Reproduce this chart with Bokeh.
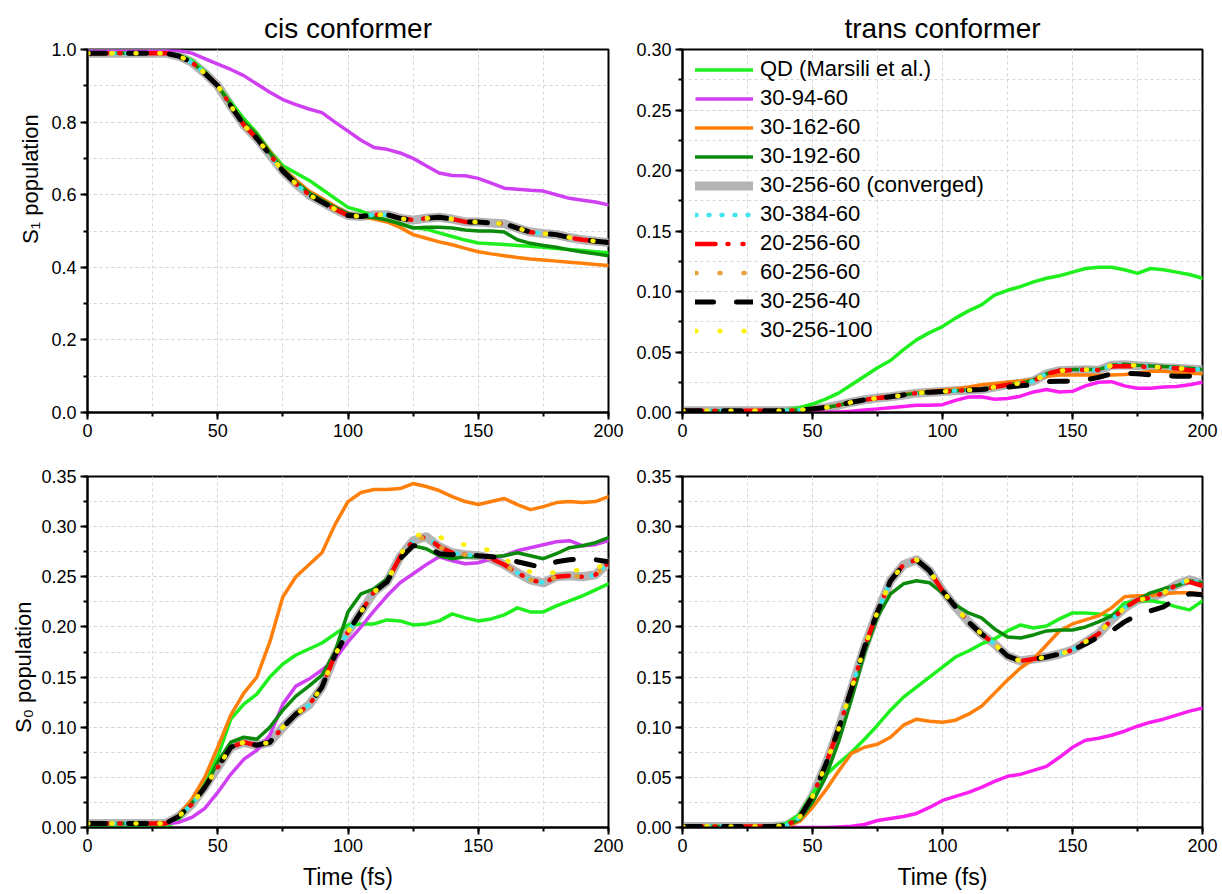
from bokeh.plotting import figure
from bokeh.models import (Range1d, FixedTicker, NumeralTickFormatter, Legend,
                          LegendItem, ColumnDataSource)
from bokeh.layouts import gridplot
from bokeh.embed import file_html
from bokeh.resources import INLINE

# ---------------- data ----------------
time_fs = [0, 5, 10, 15, 20, 25, 30, 35, 40, 45, 50, 55, 60, 65, 70, 75, 80, 85, 90, 95, 100,
           105, 110, 115, 120, 125, 130, 135, 140, 145, 150, 155, 160, 165, 170, 175, 180,
           185, 190, 195, 200]

series_labels = ["QD (Marsili et al.)", "30-94-60", "30-162-60", "30-192-60",
                 "30-256-60 (converged)", "30-384-60", "20-256-60", "60-256-60",
                 "30-256-40", "30-256-100"]

panel_titles = ["cis conformer", "trans conformer"]
x_ticks = [0, 50, 100, 150, 200]
y_ticks_s1_cis = [0.0, 0.2, 0.4, 0.6, 0.8, 1.0]
y_ticks_s1_trans = [0.0, 0.05, 0.10, 0.15, 0.20, 0.25, 0.30]
y_ticks_s0 = [0.0, 0.05, 0.10, 0.15, 0.20, 0.25, 0.30, 0.35]

# ---- cis, S1 population ----
cis_s1_qd = [0.995, 0.995, 0.995, 0.995, 0.995, 0.995, 0.995, 0.985, 0.97, 0.94, 0.90, 0.855, 0.81, 0.77, 0.72, 0.68, 0.66, 0.64, 0.615, 0.59, 0.565,
             0.555, 0.54, 0.53, 0.52, 0.51, 0.505, 0.495, 0.485, 0.475, 0.467, 0.465, 0.463, 0.46, 0.458, 0.455, 0.452, 0.449, 0.446, 0.443, 0.44]
cis_s1_94 = [0.998, 0.998, 0.998, 0.998, 0.998, 0.998, 0.998, 0.997, 0.99, 0.975, 0.96, 0.945, 0.928, 0.905, 0.882, 0.862, 0.848, 0.836, 0.826, 0.80, 0.775,
             0.75, 0.73, 0.725, 0.715, 0.70, 0.68, 0.66, 0.653, 0.652, 0.645, 0.632, 0.618, 0.615, 0.612, 0.61, 0.60, 0.59, 0.585, 0.58, 0.572]
cis_s1_162 = [0.99, 0.99, 0.99, 0.99, 0.99, 0.99, 0.99, 0.982, 0.965, 0.935, 0.90, 0.848, 0.80, 0.765, 0.718, 0.672, 0.64, 0.61, 0.59, 0.568, 0.548,
              0.54, 0.533, 0.525, 0.51, 0.49, 0.48, 0.47, 0.462, 0.452, 0.443, 0.437, 0.432, 0.427, 0.423, 0.42, 0.417, 0.414, 0.411, 0.408, 0.405]
cis_s1_192 = [0.99, 0.99, 0.99, 0.99, 0.99, 0.99, 0.99, 0.982, 0.965, 0.935, 0.90, 0.848, 0.80, 0.765, 0.715, 0.67, 0.635, 0.605, 0.585, 0.565, 0.548,
              0.54, 0.537, 0.53, 0.52, 0.508, 0.51, 0.51, 0.508, 0.503, 0.50, 0.50, 0.497, 0.476, 0.466, 0.46, 0.455, 0.448, 0.442, 0.437, 0.432]
cis_s1_conv = [0.99, 0.99, 0.99, 0.99, 0.99, 0.99, 0.99, 0.982, 0.965, 0.935, 0.90, 0.845, 0.792, 0.755, 0.71, 0.665, 0.63, 0.60, 0.58, 0.56, 0.543,
               0.54, 0.545, 0.545, 0.535, 0.53, 0.535, 0.538, 0.533, 0.525, 0.525, 0.522, 0.52, 0.508, 0.497, 0.493, 0.49, 0.482, 0.476, 0.472, 0.468]
cis_s1_384 = [0.99, 0.99, 0.99, 0.99, 0.99, 0.99, 0.99, 0.982, 0.965, 0.935, 0.90, 0.845, 0.792, 0.755, 0.71, 0.665, 0.63, 0.60, 0.58, 0.56, 0.543,
              0.54, 0.545, 0.545, 0.535, 0.53, 0.535, 0.538, 0.533, 0.525, 0.525, 0.522, 0.52, 0.508, 0.497, 0.493, 0.49, 0.482, 0.476, 0.472, 0.468]
cis_s1_20 = [0.99, 0.99, 0.99, 0.99, 0.99, 0.99, 0.99, 0.982, 0.965, 0.935, 0.90, 0.845, 0.792, 0.755, 0.71, 0.665, 0.63, 0.60, 0.58, 0.56, 0.543,
             0.54, 0.545, 0.545, 0.535, 0.53, 0.535, 0.538, 0.533, 0.525, 0.525, 0.522, 0.52, 0.508, 0.497, 0.493, 0.49, 0.482, 0.476, 0.472, 0.468]
cis_s1_60 = [0.99, 0.99, 0.99, 0.99, 0.99, 0.99, 0.99, 0.982, 0.965, 0.935, 0.90, 0.845, 0.792, 0.755, 0.71, 0.665, 0.63, 0.60, 0.58, 0.56, 0.543,
             0.54, 0.545, 0.545, 0.535, 0.53, 0.535, 0.538, 0.533, 0.525, 0.525, 0.522, 0.52, 0.508, 0.497, 0.493, 0.49, 0.482, 0.476, 0.472, 0.468]
cis_s1_40 = [0.99, 0.99, 0.99, 0.99, 0.99, 0.99, 0.99, 0.982, 0.965, 0.935, 0.90, 0.845, 0.792, 0.755, 0.71, 0.665, 0.63, 0.60, 0.58, 0.56, 0.543,
             0.54, 0.545, 0.545, 0.535, 0.53, 0.535, 0.538, 0.533, 0.525, 0.525, 0.522, 0.52, 0.508, 0.497, 0.493, 0.49, 0.482, 0.476, 0.472, 0.468]
cis_s1_100 = [0.99, 0.99, 0.99, 0.99, 0.99, 0.99, 0.99, 0.982, 0.965, 0.935, 0.90, 0.845, 0.792, 0.755, 0.71, 0.665, 0.63, 0.60, 0.58, 0.56, 0.543,
              0.54, 0.545, 0.545, 0.535, 0.53, 0.535, 0.538, 0.533, 0.525, 0.525, 0.522, 0.52, 0.508, 0.497, 0.493, 0.49, 0.482, 0.476, 0.472, 0.468]

# ---- cis, S0 population ----
cis_s0_qd = [0.0, 0.0, 0.0, 0.0, 0.0, 0.0, 0.0, 0.008, 0.025, 0.045, 0.071, 0.108, 0.123, 0.133, 0.15, 0.163, 0.172, 0.178, 0.184, 0.193, 0.202,
             0.203, 0.203, 0.207, 0.206, 0.202, 0.203, 0.206, 0.213, 0.209, 0.206, 0.208, 0.212, 0.219, 0.215, 0.215, 0.221, 0.226, 0.231, 0.237, 0.243]
cis_s0_94 = [0.004, 0.004, 0.004, 0.004, 0.004, 0.004, 0.004, 0.005, 0.01, 0.019, 0.035, 0.053, 0.068, 0.077, 0.092, 0.123, 0.141, 0.148, 0.157, 0.168, 0.185,
             0.2, 0.216, 0.231, 0.244, 0.253, 0.262, 0.27, 0.266, 0.263, 0.264, 0.268, 0.271, 0.276, 0.279, 0.282, 0.285, 0.286, 0.281, 0.282, 0.286]
cis_s0_162 = [0.004, 0.004, 0.004, 0.004, 0.004, 0.004, 0.004, 0.012, 0.028, 0.05, 0.08, 0.112, 0.134, 0.15, 0.185, 0.23, 0.25, 0.262, 0.274, 0.302, 0.325,
              0.334, 0.337, 0.337, 0.338, 0.343, 0.34, 0.336, 0.33, 0.325, 0.322, 0.325, 0.328, 0.322, 0.317, 0.32, 0.324, 0.325, 0.324, 0.325, 0.33]
cis_s0_192 = [0.004, 0.004, 0.004, 0.004, 0.004, 0.004, 0.004, 0.011, 0.024, 0.04, 0.065, 0.085, 0.09, 0.088, 0.1, 0.117, 0.131, 0.141, 0.152, 0.175, 0.215,
              0.233, 0.238, 0.248, 0.268, 0.281, 0.278, 0.271, 0.268, 0.27, 0.27, 0.27, 0.271, 0.274, 0.271, 0.268, 0.273, 0.279, 0.281, 0.284, 0.289]
cis_s0_conv = [0.004, 0.004, 0.004, 0.004, 0.004, 0.004, 0.004, 0.011, 0.023, 0.04, 0.06, 0.08, 0.085, 0.082, 0.085, 0.10, 0.113, 0.122, 0.14, 0.172, 0.195,
               0.215, 0.235, 0.245, 0.27, 0.286, 0.29, 0.28, 0.274, 0.272, 0.271, 0.268, 0.262, 0.254, 0.247, 0.244, 0.25, 0.251, 0.25, 0.252, 0.264]
cis_s0_384 = [0.004, 0.004, 0.004, 0.004, 0.004, 0.004, 0.004, 0.011, 0.023, 0.04, 0.06, 0.08, 0.085, 0.082, 0.085, 0.10, 0.113, 0.122, 0.14, 0.172, 0.195,
              0.215, 0.235, 0.245, 0.27, 0.286, 0.29, 0.28, 0.274, 0.272, 0.271, 0.268, 0.262, 0.254, 0.247, 0.244, 0.25, 0.251, 0.25, 0.252, 0.264]
cis_s0_20 = [0.004, 0.004, 0.004, 0.004, 0.004, 0.004, 0.004, 0.011, 0.023, 0.04, 0.06, 0.08, 0.085, 0.082, 0.085, 0.10, 0.113, 0.122, 0.14, 0.172, 0.195,
             0.215, 0.235, 0.245, 0.27, 0.286, 0.29, 0.28, 0.274, 0.272, 0.271, 0.268, 0.262, 0.254, 0.247, 0.244, 0.25, 0.251, 0.25, 0.252, 0.264]
cis_s0_60 = [0.004, 0.004, 0.004, 0.004, 0.004, 0.004, 0.004, 0.011, 0.023, 0.04, 0.06, 0.08, 0.085, 0.082, 0.085, 0.10, 0.113, 0.122, 0.14, 0.172, 0.195,
             0.215, 0.235, 0.245, 0.27, 0.286, 0.29, 0.28, 0.274, 0.272, 0.271, 0.268, 0.262, 0.254, 0.247, 0.244, 0.25, 0.251, 0.25, 0.252, 0.264]
cis_s0_40 = [0.004, 0.004, 0.004, 0.004, 0.004, 0.004, 0.004, 0.011, 0.023, 0.04, 0.06, 0.08, 0.085, 0.082, 0.085, 0.10, 0.113, 0.122, 0.14, 0.172, 0.195,
             0.215, 0.235, 0.245, 0.268, 0.281, 0.281, 0.273, 0.272, 0.273, 0.271, 0.27, 0.269, 0.265, 0.262, 0.259, 0.265, 0.267, 0.268, 0.267, 0.265]
cis_s0_100 = [0.004, 0.004, 0.004, 0.004, 0.004, 0.004, 0.004, 0.011, 0.023, 0.04, 0.06, 0.08, 0.085, 0.082, 0.085, 0.10, 0.113, 0.122, 0.14, 0.172, 0.195,
              0.215, 0.235, 0.245, 0.272, 0.29, 0.294, 0.29, 0.283, 0.282, 0.281, 0.275, 0.268, 0.26, 0.255, 0.252, 0.255, 0.257, 0.256, 0.258, 0.265]

# ---- trans, S1 population ----
trans_s1_qd = [0.0, 0.0, 0.0, 0.0, 0.0, 0.0, 0.0, 0.001, 0.002, 0.004, 0.007, 0.011, 0.016, 0.023, 0.03, 0.037, 0.043, 0.052, 0.06, 0.066, 0.071,
               0.078, 0.084, 0.089, 0.097, 0.101, 0.104, 0.108, 0.111, 0.113, 0.116, 0.119, 0.12, 0.12, 0.118, 0.115, 0.119, 0.118, 0.116, 0.114, 0.111]
trans_s1_94 = [0.0, 0.0, 0.0, 0.0, 0.0, 0.0, 0.0, 0.0, 0.0, 0.0, 0.0, 0.0002, 0.0005, 0.001, 0.002, 0.003, 0.004, 0.005, 0.006, 0.006, 0.0065,
               0.01, 0.0128, 0.013, 0.011, 0.0115, 0.0135, 0.017, 0.019, 0.017, 0.0175, 0.022, 0.025, 0.0255, 0.022, 0.02, 0.02, 0.021, 0.0215, 0.023, 0.025]
trans_s1_162 = [0.0015, 0.0015, 0.0015, 0.0015, 0.0015, 0.0015, 0.0015, 0.0015, 0.0015, 0.002, 0.003, 0.004, 0.006, 0.0085, 0.0105, 0.012, 0.0135, 0.015, 0.0165, 0.0175, 0.0185,
                0.0195, 0.021, 0.023, 0.024, 0.025, 0.026, 0.027, 0.03, 0.031, 0.031, 0.031, 0.0305, 0.031, 0.0315, 0.0325, 0.034, 0.034, 0.033, 0.0325, 0.032]
trans_s1_192 = [0.0015, 0.0015, 0.0015, 0.0015, 0.0015, 0.0015, 0.0015, 0.0015, 0.0015, 0.002, 0.003, 0.004, 0.006, 0.0085, 0.0105, 0.012, 0.013, 0.0145, 0.016, 0.0168, 0.0173,
                0.018, 0.0185, 0.019, 0.021, 0.023, 0.024, 0.027, 0.032, 0.035, 0.0355, 0.0355, 0.0355, 0.039, 0.0398, 0.039, 0.0385, 0.038, 0.0375, 0.0365, 0.0355]
trans_s1_conv = [0.0015, 0.0015, 0.0015, 0.0015, 0.0015, 0.0015, 0.0015, 0.0015, 0.0015, 0.002, 0.003, 0.004, 0.006, 0.0085, 0.0105, 0.012, 0.013, 0.0145, 0.016, 0.0168, 0.0173,
                 0.018, 0.0185, 0.019, 0.021, 0.023, 0.024, 0.026, 0.032, 0.0345, 0.035, 0.0354, 0.035, 0.039, 0.0395, 0.0387, 0.038, 0.037, 0.0365, 0.036, 0.0354]
trans_s1_384 = [0.0015, 0.0015, 0.0015, 0.0015, 0.0015, 0.0015, 0.0015, 0.0015, 0.0015, 0.002, 0.003, 0.004, 0.006, 0.0085, 0.0105, 0.012, 0.013, 0.0145, 0.016, 0.0168, 0.0173,
                0.018, 0.0185, 0.019, 0.021, 0.023, 0.024, 0.026, 0.032, 0.0345, 0.035, 0.0354, 0.035, 0.039, 0.0395, 0.0387, 0.038, 0.037, 0.0365, 0.036, 0.0354]
trans_s1_20 = [0.0015, 0.0015, 0.0015, 0.0015, 0.0015, 0.0015, 0.0015, 0.0015, 0.0015, 0.002, 0.003, 0.004, 0.006, 0.0085, 0.0105, 0.012, 0.013, 0.0145, 0.016, 0.0168, 0.0173,
               0.018, 0.0185, 0.019, 0.021, 0.023, 0.024, 0.026, 0.032, 0.0345, 0.035, 0.0354, 0.035, 0.038, 0.0385, 0.038, 0.0375, 0.037, 0.0365, 0.035, 0.0345]
trans_s1_60 = [0.0015, 0.0015, 0.0015, 0.0015, 0.0015, 0.0015, 0.0015, 0.0015, 0.0015, 0.002, 0.003, 0.004, 0.006, 0.0085, 0.0105, 0.012, 0.013, 0.0145, 0.016, 0.0168, 0.0173,
               0.018, 0.0185, 0.019, 0.021, 0.023, 0.024, 0.026, 0.032, 0.0345, 0.035, 0.0354, 0.035, 0.039, 0.0395, 0.0387, 0.038, 0.037, 0.0365, 0.036, 0.0354]
trans_s1_40 = [0.0015, 0.0015, 0.0015, 0.0015, 0.0015, 0.0015, 0.0015, 0.0015, 0.0015, 0.002, 0.003, 0.004, 0.006, 0.0085, 0.0105, 0.012, 0.013, 0.0145, 0.016, 0.0168, 0.0173,
               0.018, 0.0185, 0.019, 0.02, 0.021, 0.022, 0.023, 0.0255, 0.0258, 0.026, 0.027, 0.029, 0.032, 0.0325, 0.032, 0.031, 0.0305, 0.03, 0.03, 0.0305]
trans_s1_100 = [0.0015, 0.0015, 0.0015, 0.0015, 0.0015, 0.0015, 0.0015, 0.0015, 0.0015, 0.002, 0.003, 0.004, 0.006, 0.0085, 0.0105, 0.012, 0.013, 0.0145, 0.016, 0.0168, 0.0173,
                0.018, 0.0185, 0.019, 0.021, 0.023, 0.024, 0.026, 0.032, 0.0345, 0.035, 0.0354, 0.035, 0.039, 0.0395, 0.0387, 0.038, 0.037, 0.0365, 0.036, 0.0354]

# ---- trans, S0 population ----
trans_s0_qd = [0.001, 0.001, 0.001, 0.001, 0.001, 0.001, 0.001, 0.001, 0.004, 0.013, 0.034, 0.052, 0.064, 0.075, 0.088, 0.102, 0.117, 0.13, 0.14, 0.15, 0.16,
               0.17, 0.176, 0.183, 0.188, 0.196, 0.202, 0.199, 0.201, 0.208, 0.214, 0.214, 0.213, 0.211, 0.224, 0.226, 0.226, 0.224, 0.22, 0.217, 0.226]
trans_s0_94 = [0.0, 0.0, 0.0, 0.0, 0.0, 0.0, 0.0, 0.0, 0.0, 0.0, 0.0, 0.0, 0.0005, 0.0012, 0.003, 0.007, 0.009, 0.011, 0.014, 0.02, 0.027,
               0.031, 0.035, 0.04, 0.046, 0.051, 0.053, 0.057, 0.061, 0.07, 0.08, 0.087, 0.089, 0.092, 0.096, 0.101, 0.105, 0.108, 0.112, 0.116, 0.119]
trans_s0_162 = [0.001, 0.001, 0.001, 0.001, 0.001, 0.001, 0.001, 0.001, 0.001, 0.006, 0.02, 0.037, 0.056, 0.074, 0.08, 0.083, 0.09, 0.102, 0.108, 0.106, 0.105,
                0.107, 0.113, 0.121, 0.134, 0.147, 0.159, 0.168, 0.182, 0.196, 0.203, 0.207, 0.211, 0.219, 0.23, 0.231, 0.231, 0.233, 0.234, 0.234, 0.233]
trans_s0_192 = [0.001, 0.001, 0.001, 0.001, 0.001, 0.001, 0.001, 0.001, 0.002, 0.008, 0.025, 0.05, 0.085, 0.128, 0.174, 0.21, 0.233, 0.243, 0.246, 0.244, 0.234,
                0.222, 0.214, 0.209, 0.198, 0.19, 0.189, 0.192, 0.196, 0.197, 0.197, 0.2, 0.205, 0.211, 0.219, 0.227, 0.234, 0.238, 0.241, 0.246, 0.244]
trans_s0_conv = [0.001, 0.001, 0.001, 0.001, 0.001, 0.001, 0.001, 0.001, 0.002, 0.01, 0.031, 0.062, 0.098, 0.138, 0.18, 0.215, 0.246, 0.262, 0.267, 0.256, 0.236,
                 0.22, 0.205, 0.193, 0.183, 0.171, 0.166, 0.168, 0.17, 0.173, 0.177, 0.185, 0.193, 0.207, 0.219, 0.227, 0.229, 0.234, 0.242, 0.247, 0.243]
trans_s0_384 = [0.001, 0.001, 0.001, 0.001, 0.001, 0.001, 0.001, 0.001, 0.002, 0.01, 0.031, 0.062, 0.098, 0.138, 0.18, 0.215, 0.246, 0.262, 0.267, 0.256, 0.236,
                0.22, 0.205, 0.193, 0.183, 0.171, 0.166, 0.168, 0.17, 0.173, 0.177, 0.185, 0.193, 0.207, 0.219, 0.227, 0.229, 0.234, 0.242, 0.247, 0.243]
trans_s0_20 = [0.001, 0.001, 0.001, 0.001, 0.001, 0.001, 0.001, 0.001, 0.002, 0.01, 0.031, 0.062, 0.098, 0.138, 0.18, 0.215, 0.246, 0.262, 0.267, 0.256, 0.236,
               0.22, 0.205, 0.193, 0.183, 0.171, 0.166, 0.168, 0.17, 0.173, 0.177, 0.185, 0.193, 0.207, 0.219, 0.227, 0.229, 0.234, 0.242, 0.245, 0.241]
trans_s0_60 = [0.001, 0.001, 0.001, 0.001, 0.001, 0.001, 0.001, 0.001, 0.002, 0.01, 0.031, 0.062, 0.098, 0.138, 0.18, 0.215, 0.246, 0.262, 0.267, 0.256, 0.236,
               0.22, 0.205, 0.193, 0.183, 0.171, 0.166, 0.168, 0.17, 0.173, 0.177, 0.185, 0.193, 0.207, 0.219, 0.227, 0.229, 0.234, 0.242, 0.247, 0.243]
trans_s0_40 = [0.001, 0.001, 0.001, 0.001, 0.001, 0.001, 0.001, 0.001, 0.002, 0.01, 0.031, 0.062, 0.098, 0.138, 0.18, 0.215, 0.246, 0.262, 0.267, 0.256, 0.236,
               0.22, 0.205, 0.193, 0.183, 0.171, 0.166, 0.168, 0.17, 0.173, 0.177, 0.183, 0.19, 0.196, 0.205, 0.212, 0.216, 0.22, 0.228, 0.233, 0.232]
trans_s0_100 = [0.001, 0.001, 0.001, 0.001, 0.001, 0.001, 0.001, 0.001, 0.002, 0.01, 0.031, 0.062, 0.098, 0.138, 0.18, 0.215, 0.246, 0.262, 0.267, 0.256, 0.236,
                0.22, 0.205, 0.193, 0.183, 0.171, 0.166, 0.168, 0.17, 0.173, 0.177, 0.185, 0.193, 0.207, 0.219, 0.227, 0.229, 0.234, 0.242, 0.247, 0.243]

# ---------------- styling ----------------
FONT = "Liberation Sans"
MAGENTA_CIS = "#cf40f2"
MAGENTA_TRANS = "#fa1ef0"
NBSP = "\u00a0"

STYLES = [
    dict(line_color="#1ef01e", line_width=3.5),
    dict(line_color=MAGENTA_CIS, line_width=3.5),
    dict(line_color="#ff7f0a", line_width=3.5),
    dict(line_color="#0b8a0b", line_width=3.5),
    dict(line_color="#b4b4b4", line_width=9),
    dict(line_color="#3ee4ee", line_width=4.5, line_dash="1 12"),
    dict(line_color="#ff0000", line_width=4.5, line_dash="20 12 1 14 1 14"),
    dict(line_color="#e3a132", line_width=4.5, line_dash="1 23"),
    dict(line_color="#000000", line_width=5, line_dash="18 23"),
    dict(line_color="#fff000", line_width=4.5, line_dash="1 23"),
]
DRAW_ORDER = [4, 0, 1, 2, 3, 5, 6, 7, 8, 9]

panels = {
    "cis_s1": [cis_s1_qd, cis_s1_94, cis_s1_162, cis_s1_192, cis_s1_conv,
               cis_s1_384, cis_s1_20, cis_s1_60, cis_s1_40, cis_s1_100],
    "cis_s0": [cis_s0_qd, cis_s0_94, cis_s0_162, cis_s0_192, cis_s0_conv,
               cis_s0_384, cis_s0_20, cis_s0_60, cis_s0_40, cis_s0_100],
    "trans_s1": [trans_s1_qd, trans_s1_94, trans_s1_162, trans_s1_192, trans_s1_conv,
                 trans_s1_384, trans_s1_20, trans_s1_60, trans_s1_40, trans_s1_100],
    "trans_s0": [trans_s0_qd, trans_s0_94, trans_s0_162, trans_s0_192, trans_s0_conv,
                 trans_s0_384, trans_s0_20, trans_s0_60, trans_s0_40, trans_s0_100],
}


def make_fig(width, height, borders, ymax, yticks, yminor, yfmt, title=None,
             xlabel=None, ylabel=None, ylabel_standoff=5):
    left, right, top, bottom = borders
    p = figure(width=width, height=height, x_range=Range1d(0, 200),
               y_range=Range1d(0, ymax), output_backend="svg",
               toolbar_location=None, tools="",
               min_border_left=left, min_border_right=right,
               min_border_top=top, min_border_bottom=bottom)
    p.background_fill_color = "white"
    p.border_fill_color = "white"
    p.outline_line_color = "black"
    p.outline_line_width = 2
    p.outline_line_alpha = 1

    p.xaxis.ticker = FixedTicker(ticks=x_ticks, minor_ticks=[0, 25, 50, 75, 100, 125, 150, 175, 200])
    p.yaxis.ticker = FixedTicker(ticks=yticks, minor_ticks=yminor)
    p.yaxis.formatter = NumeralTickFormatter(format=yfmt)

    for ax in (p.xaxis, p.yaxis):
        ax.axis_line_width = 2
        ax.axis_line_color = "black"
        ax.major_tick_line_width = 2
        ax.major_tick_line_color = "black"
        ax.major_tick_out = 7
        ax.major_tick_in = 0
        ax.minor_tick_line_width = 2
        ax.minor_tick_line_color = "black"
        ax.minor_tick_out = 4
        ax.minor_tick_in = 0
        ax.major_label_text_font = FONT
        ax.major_label_text_font_size = "18px"
        ax.major_label_text_color = "black"
        ax.major_label_standoff = 4
        ax.axis_label_text_font = FONT
        ax.axis_label_text_font_style = "normal"
        ax.axis_label_text_color = "black"

    if xlabel:
        p.xaxis.axis_label = xlabel
        p.xaxis.axis_label_text_font_size = "23px"
        p.xaxis.axis_label_standoff = 9
    if ylabel:
        p.yaxis.axis_label = ylabel
        p.yaxis.axis_label_text_font_size = "22px"
        p.yaxis.axis_label_standoff = ylabel_standoff

    for g in (p.xgrid, p.ygrid):
        g.grid_line_color = "#d6d6d6"
        g.grid_line_dash = "3 3"
        g.grid_line_width = 1
        g.minor_grid_line_color = "#d6d6d6"
        g.minor_grid_line_dash = "3 3"
        g.minor_grid_line_width = 1

    if title:
        p.title.text = title
        p.title.align = "center"
        p.title.vertical_align = "top"
        p.title.text_font = FONT
        p.title.text_font_size = "28px"
        p.title.text_font_style = "normal"
        p.title.text_color = "black"
        p.title.standoff = 8
    return p


def add_series(p, values_list, magenta):
    renderers = [None] * len(values_list)
    for i in DRAW_ORDER:
        style = dict(STYLES[i])
        if i == 1:
            style["line_color"] = magenta
        src = ColumnDataSource(data=dict(t=time_fs, v=values_list[i]))
        r = p.line("t", "v", source=src, line_join="round", line_cap="round", **style)
        renderers[i] = r
    return renderers


W_LEFT, W_RIGHT = 628, 594
H_TOP, H_BOT = 444, 449

# the y labels sit off-centre in the reference; non-breaking spaces shift them along the axis
p_cis_s1 = make_fig(W_LEFT, H_TOP, (87, 20, 49, 32), 1.0, y_ticks_s1_cis,
                    [0.0, 0.1, 0.2, 0.3, 0.4, 0.5, 0.6, 0.7, 0.8, 0.9, 1.0], "0.0",
                    title=panel_titles[0], ylabel=NBSP * 17 + "S\u2081 population",
                    ylabel_standoff=5)
p_trans_s1 = make_fig(W_RIGHT, H_TOP, (54, 20, 49, 32), 0.30, y_ticks_s1_trans,
                      [0.0, 0.025, 0.05, 0.075, 0.10, 0.125, 0.15, 0.175, 0.20, 0.225, 0.25, 0.275, 0.30],
                      "0.00", title=panel_titles[1])
s0_minor = [0.0, 0.025, 0.05, 0.075, 0.10, 0.125, 0.15, 0.175, 0.20, 0.225, 0.25, 0.275, 0.30, 0.325, 0.35]
p_cis_s0 = make_fig(W_LEFT, H_BOT, (87, 20, 32, 66), 0.35, y_ticks_s0, s0_minor, "0.00",
                    xlabel="Time (fs)", ylabel="S\u2080 population" + NBSP * 5, ylabel_standoff=2)
p_trans_s0 = make_fig(W_RIGHT, H_BOT, (54, 20, 32, 66), 0.35, y_ticks_s0, s0_minor, "0.00",
                      xlabel="Time (fs)")

add_series(p_cis_s1, panels["cis_s1"], MAGENTA_CIS)
add_series(p_cis_s0, panels["cis_s0"], MAGENTA_CIS)
r_trans = add_series(p_trans_s1, panels["trans_s1"], MAGENTA_TRANS)
add_series(p_trans_s0, panels["trans_s0"], MAGENTA_TRANS)

# legend key for 30-94-60 uses the purple colour (a renderer that draws nothing)
key_src = ColumnDataSource(data=dict(t=[float("nan")], v=[float("nan")]))
key_94 = p_trans_s1.line("t", "v", source=key_src, line_color=MAGENTA_CIS, line_width=3.5)
legend_renderers = list(r_trans)
legend_renderers[1] = key_94

legend = Legend(items=[LegendItem(label=lab, renderers=[r])
                       for lab, r in zip(series_labels, legend_renderers)])
# (x, y) = lower-left corner of the legend box, in pixels from the frame's lower-left corner
legend.location = (8, 64)
legend.margin = 0
legend.padding = 5
legend.spacing = 3
legend.glyph_width = 58
legend.glyph_height = 25
legend.label_height = 25
legend.label_standoff = 7
legend.label_text_font = FONT
legend.label_text_font_size = "22px"
legend.label_text_color = "black"
legend.background_fill_alpha = 0
legend.border_line_alpha = 0
p_trans_s1.add_layout(legend)

grid = gridplot([[p_cis_s1, p_trans_s1], [p_cis_s0, p_trans_s0]], toolbar_location=None)

open("out.html", "w").write(file_html(grid, INLINE))
